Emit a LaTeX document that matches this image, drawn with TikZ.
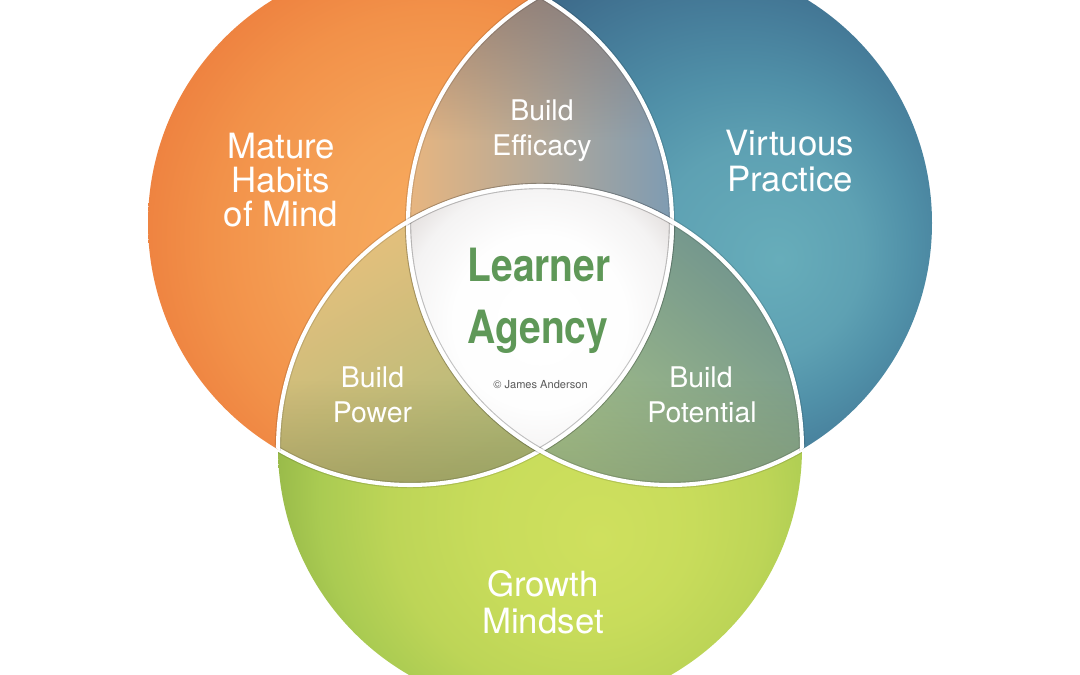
\documentclass[tikz,border=0pt]{standalone}
\usepackage{fontspec}
\setmainfont{TeX Gyre Heros}
\newfontfamily\condfont{TeX Gyre Heros}[FakeStretch=0.85]
\usetikzlibrary{fadings}

% circle colours
\definecolor{oa}{HTML}{F7AD60}
\definecolor{ob}{HTML}{F5A257}
\definecolor{oc}{HTML}{F29149}
\definecolor{od}{HTML}{EE8240}
\definecolor{oe}{HTML}{E8722F}
\definecolor{ba}{HTML}{67ADBA}
\definecolor{bb}{HTML}{5EA1B3}
\definecolor{bc}{HTML}{5090A8}
\definecolor{bd}{HTML}{467D9A}
\definecolor{be}{HTML}{3D6A8A}
\definecolor{ga}{HTML}{CFE05E}
\definecolor{gb}{HTML}{C8DC5B}
\definecolor{gc}{HTML}{BDD557}
\definecolor{gd}{HTML}{AACB52}
\definecolor{ge}{HTML}{8FB145}
\definecolor{ca}{HTML}{FFFFFF}
\definecolor{cb}{HTML}{FEFEFE}
\definecolor{cc}{HTML}{F4F3F3}
\definecolor{cd}{HTML}{DCD6D4}
\definecolor{ce}{HTML}{D0CACA}
% lens colours
\definecolor{effL}{HTML}{E9B67F}
\definecolor{effM}{HTML}{BAAE9A}
\definecolor{effR}{HTML}{7D9BB3}
\definecolor{effTop}{HTML}{7D6A68}
\definecolor{powT}{HTML}{E8C07D}
\definecolor{powM}{HTML}{CEC07E}
\definecolor{powB}{HTML}{ABBA78}
\definecolor{powD}{HTML}{8A7F45}
\definecolor{potT}{HTML}{6E928E}
\definecolor{potM}{HTML}{93B28A}
\definecolor{potB}{HTML}{A6C087}
\definecolor{potD}{HTML}{6F8466}
\definecolor{agency}{HTML}{5F9858}
\definecolor{copyc}{HTML}{5A5A5A}

\pgfdeclareradialshading{shL}{\pgfpoint{5.2bp}{-3bp}}{color(0bp)=(oa); color(12bp)=(ob); color(22bp)=(oc); color(28bp)=(od); color(32bp)=(oe); color(50bp)=(oe)}
\pgfdeclareradialshading{shR}{\pgfpoint{10.5bp}{-3.5bp}}{color(0bp)=(ba); color(10bp)=(bb); color(16bp)=(bc); color(22bp)=(bd); color(28bp)=(be); color(50bp)=(be)}
\pgfdeclareradialshading{shB}{\pgfpoint{5.7bp}{-8.8bp}}{color(0bp)=(ga); color(10bp)=(gb); color(18bp)=(gc); color(24bp)=(gd); color(30bp)=(ge); color(50bp)=(ge)}
\pgfdeclareradialshading{shC}{\pgfpoint{0bp}{0bp}}{color(0bp)=(ca); color(12bp)=(cb); color(19bp)=(cc); color(25bp)=(cd); color(30bp)=(ce); color(50bp)=(ce)}

\tikzfading[name=fadeTop, top color=transparent!35, bottom color=transparent!100]
\tikzfading[name=fadeBot, top color=transparent!100, bottom color=transparent!45]

\tikzset{
  outline/.style={draw=white, line width=2.3pt},
  outshadow/.style={draw=black, opacity=0.12, line width=3.6pt},
  biglabel/.style={text=white, inner sep=0pt, anchor=base, font=\fontsize{19.8pt}{22pt}\selectfont},
  buildlabel/.style={text=white, inner sep=0pt, anchor=base, font=\fontsize{16.2pt}{18pt}\selectfont},
  agencylabel/.style={text=agency, inner sep=0pt, anchor=base, font=\condfont\bfseries\fontsize{26.1pt}{28pt}\selectfont},
  copylabel/.style={text=copyc, inner sep=0pt, anchor=base, font=\fontsize{6.3pt}{7pt}\selectfont}
}

\begin{document}
\begin{tikzpicture}[x=0.02cm,y=-0.02cm]
\useasboundingbox (0,0) rectangle (1080,675);
\fill[white] (0,0) rectangle (1080,675);

\coordinate (L) at (410,223);
\coordinate (R) at (670,223);
\coordinate (B) at (540,448);

% main circles
\shade[shading=shL] (L) circle[radius=262];
\shade[shading=shR] (R) circle[radius=262];
\shade[shading=shB] (B) circle[radius=262];

% Build Efficacy lens (left & right)
\begin{scope}
  \clip (L) circle[radius=262];
  \clip (R) circle[radius=262];
  \shade[left color=effL, middle color=effM, right color=effR] (405,-10) rectangle (675,260);
  \fill[effTop, path fading=fadeTop] (405,-10) rectangle (675,140);
\end{scope}

% Build Power lens (left & bottom)
\begin{scope}
  \clip (L) circle[radius=262];
  \clip (B) circle[radius=262];
  \shade[top color=powT, middle color=powM, bottom color=powB, shading angle=30] (270,215) rectangle (545,495);
  \fill[powD, path fading=fadeBot, opacity=0.8] (270,380) rectangle (545,495);
\end{scope}

% Build Potential lens (right & bottom)
\begin{scope}
  \clip (R) circle[radius=262];
  \clip (B) circle[radius=262];
  \shade[top color=potT, middle color=potM, bottom color=potB, shading angle=-40] (535,215) rectangle (810,495);
  \fill[potD, path fading=fadeBot, opacity=0.8] (535,380) rectangle (810,495);
\end{scope}

% centre
\begin{scope}
  \clip (L) circle[radius=262];
  \clip (R) circle[radius=262];
  \clip (B) circle[radius=262];
  \shade[shading=shC] (540,322) circle[radius=180];
\end{scope}

% white outlines inside the other circles
\foreach \a/\b in {L/R, L/B, R/L, R/B, B/L, B/R} {
  \begin{scope}
    \clip (\b) circle[radius=262];
    \draw[outshadow] (\a) circle[radius=262];
    \draw[outline] (\a) circle[radius=262];
  \end{scope}
}

% labels
\node[biglabel] (mat1) at (281,158.5) {Mature};
\node[biglabel] (mat2) at (281,193) {Habits};
\node[biglabel] (mat3) at (281,227) {of Mind};
\node[biglabel] (vir1) at (790,156) {Virtuous};
\node[biglabel] (vir2) at (790,192) {Practice};
\node[biglabel] (gro1) at (543,597) {Growth};
\node[biglabel] (gro2) at (543,634) {Mindset};

\node[buildlabel] (eff1) at (542,121) {Build};
\node[buildlabel] (eff2) at (542,156) {Efficacy};
\node[buildlabel] (pow1) at (372.5,388) {Build};
\node[buildlabel] (pow2) at (372.5,423) {Power};
\node[buildlabel] (pot1) at (701,388) {Build};
\node[buildlabel] (pot2) at (702,423) {Potential};

\node[agencylabel] (la1) at (539,282) {Learner};
\node[agencylabel] (la2) at (538,344) {Agency};
\node[copylabel] (copy) at (540.5,389) {© James Anderson};
\end{tikzpicture}
\end{document}
